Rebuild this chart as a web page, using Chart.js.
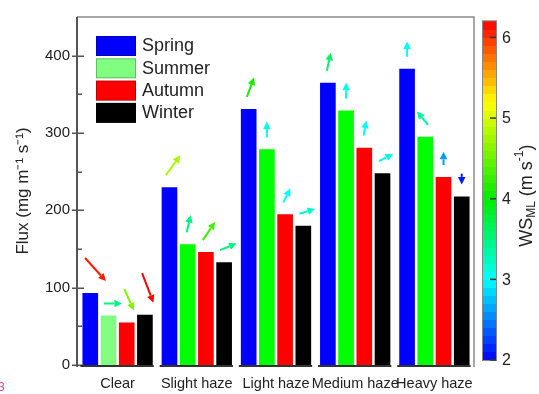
<!DOCTYPE html>
<html>
<head>
<meta charset="utf-8">
<script src="https://cdn.jsdelivr.net/npm/chart.js@4"></script>
<style>
  html, body { margin: 0; padding: 0; background: #fff; overflow: hidden; }
  canvas { display: block; }
</style>
</head>
<body>
<canvas id="c" width="539" height="394"></canvas>
<script>
// Pollution categories on the x axis
const categories = ['Clear', 'Slight haze', 'Light haze', 'Medium haze', 'Heavy haze'];

// Flux (mg m-1 s-1) per season
const fluxSpring = [93, 230, 331, 365, 383];
const fluxSummer = [64, 156, 279, 329, 295];
const fluxAutumn = [55, 146, 195, 281, 243];
const fluxWinter = [65, 133, 180, 248, 218];

// Mixed-layer wind speed WS_ML (m s-1) per season
const wsSpring = [6.1, 4.8, 4.1, 3.6, 3.0];
const wsSummer = [3.5, 3.5, 3.1, 3.1, 3.4];
const wsAutumn = [4.6, 4.3, 3.0, 3.0, 2.6];
const wsWinter = [6.2, 3.5, 3.2, 3.1, 2.1];

// Direction the wind vector points (degrees, counter-clockwise from east)
const dirSpring = [-48, 54, 70, 78, 90];
const dirSummer = [0, 77, 90, 90, 130];
const dirAutumn = [-66, 56, 63, 80, 90];
const dirWinter = [-69, 22, 17, 27, -90];

// Axis ticks
const fluxTicks = [0, 100, 200, 300, 400];
const fluxMinorTicks = [50, 150, 250, 350];
const wsTicks = [2, 3, 4, 5, 6];
const wsRange = [2.0, 6.2];

const FONT = "'Liberation Sans', Arial, Helvetica, sans-serif";
Chart.defaults.font.family = FONT;

// Rainbow colour map used for the wind-speed colour bar and vectors
const cmapStops = [
  [2.0, [0, 0, 255]],
  [3.0, [0, 255, 255]],
  [4.0, [0, 235, 0]],
  [5.2, [255, 255, 0]],
  [6.2, [255, 0, 0]]
];
function wsColor(v) {
  if (v <= cmapStops[0][0]) return 'rgb(' + cmapStops[0][1].join(',') + ')';
  for (let i = 1; i < cmapStops.length; i++) {
    const [v1, c1] = cmapStops[i];
    const [v0, c0] = cmapStops[i - 1];
    if (v <= v1) {
      const f = (v - v0) / (v1 - v0);
      const c = c0.map((a, k) => Math.round(a + (c1[k] - a) * f));
      return 'rgb(' + c.join(',') + ')';
    }
  }
  return 'rgb(' + cmapStops[cmapStops.length - 1][1].join(',') + ')';
}

function drawArrow(ctx, x0, y0, x1, y1, color) {
  const ang = Math.atan2(y1 - y0, x1 - x0);
  const hl = 7.5, hw = 3.8;
  const bx = x1 - hl * Math.cos(ang), by = y1 - hl * Math.sin(ang);
  ctx.strokeStyle = color;
  ctx.fillStyle = color;
  ctx.lineWidth = 2;
  ctx.lineCap = 'butt';
  ctx.beginPath();
  ctx.moveTo(x0, y0);
  ctx.lineTo(bx, by);
  ctx.stroke();
  ctx.beginPath();
  ctx.moveTo(x1, y1);
  ctx.lineTo(bx + hw * Math.sin(ang), by - hw * Math.cos(ang));
  ctx.lineTo(bx - hw * Math.sin(ang), by + hw * Math.cos(ang));
  ctx.closePath();
  ctx.fill();
}

// Frame, axis ticks, per-group baselines, legend, colour bar and wind vectors
const decorations = {
  id: 'decorations',
  afterDatasetsDraw(chart) {
    const ctx = chart.ctx;
    const area = chart.chartArea;
    const y = chart.scales.y;
    ctx.save();

    // frame
    ctx.strokeStyle = '#8a8a8a';
    ctx.lineWidth = 1.5;
    ctx.beginPath();
    ctx.moveTo(area.left - 1, area.top);
    ctx.lineTo(area.right, area.top);
    ctx.lineTo(area.right, area.bottom + 2);
    ctx.stroke();

    // left axis
    ctx.strokeStyle = '#555';
    ctx.lineWidth = 2;
    ctx.beginPath();
    ctx.moveTo(area.left - 1, area.top);
    ctx.lineTo(area.left - 1, area.bottom + 2);
    ctx.stroke();

    // y ticks
    ctx.lineWidth = 1.5;
    fluxTicks.forEach(v => {
      const py = Math.round(y.getPixelForValue(v)) + 0.25;
      ctx.beginPath();
      ctx.moveTo(area.left - 6, py);
      ctx.lineTo(area.left + 6, py);
      ctx.stroke();
    });
    fluxMinorTicks.forEach(v => {
      const py = Math.round(y.getPixelForValue(v)) + 0.25;
      ctx.beginPath();
      ctx.moveTo(area.left, py);
      ctx.lineTo(area.left + 4, py);
      ctx.stroke();
    });

    // baseline segment under each group of bars
    const first = chart.getDatasetMeta(0).data;
    const last = chart.getDatasetMeta(chart.data.datasets.length - 1).data;
    ctx.strokeStyle = '#333';
    ctx.lineWidth = 2;
    first.forEach((bar, i) => {
      const x0 = bar.x - bar.width / 2 - 2;
      const x1 = last[i].x + last[i].width / 2 + 1;
      const by = y.getPixelForValue(0) + 1;
      ctx.beginPath();
      ctx.moveTo(x0, by);
      ctx.lineTo(x1, by);
      ctx.stroke();
    });

    // wind vectors above each bar: length follows wind speed, colour from the colour map
    const pxPerWs = 5.1;
    chart.data.datasets.forEach((ds, d) => {
      const meta = chart.getDatasetMeta(d);
      meta.data.forEach((bar, i) => {
        const ws = ds.windSpeed[i];
        const a = ds.windDir[i] * Math.PI / 180;
        const len = ws * pxPerWs;
        const dx = len * Math.cos(a);
        const dy = -len * Math.sin(a);
        const tx = bar.x - 0.25 * dx;
        const low = bar.y - 12;
        const ty = dy > 0 ? low - dy : low;
        drawArrow(ctx, tx, ty, tx + dx, ty + dy, wsColor(ws));
      });
    });

    // legend inside the plot
    const lx = area.left + 18, ly = area.top + 19;
    ctx.font = '18px ' + FONT;
    ctx.textBaseline = 'middle';
    ctx.textAlign = 'left';
    chart.data.datasets.forEach((ds, d) => {
      const sy = ly + d * 22.3;
      ctx.fillStyle = ds.legendColor;
      ctx.fillRect(lx, sy, 40, 20);
      ctx.strokeStyle = 'rgba(0,0,0,0.25)';
      ctx.lineWidth = 1;
      ctx.strokeRect(lx + 0.5, sy + 0.5, 39, 19);
      ctx.fillStyle = '#222';
      ctx.fillText(ds.label, lx + 46, sy + 10.5);
    });

    // colour bar
    const cbx = area.right + 9, cbw = 13;
    const cbTop = area.top + 4.3, cbBot = area.bottom - 5;
    const pxPerUnit = (cbBot - cbTop) / (wsRange[1] - wsRange[0]);
    const wsY = v => cbBot - (v - wsRange[0]) * pxPerUnit;
    const steps = Math.round((wsRange[1] - wsRange[0]) / 0.1);
    for (let k = 0; k < steps; k++) {
      const v0 = wsRange[0] + k * 0.1;
      ctx.fillStyle = wsColor(v0 + 0.05);
      const yTop = wsY(v0 + 0.1), yBot = wsY(v0);
      ctx.fillRect(cbx, Math.floor(yTop), cbw, Math.ceil(yBot) - Math.floor(yTop));
    }
    ctx.strokeStyle = '#888';
    ctx.lineWidth = 1;
    ctx.strokeRect(cbx - 0.5, cbTop - 0.5, cbw + 1, cbBot - cbTop + 1);
    ctx.strokeStyle = '#333';
    ctx.lineWidth = 1.5;
    ctx.fillStyle = '#222';
    ctx.font = '16px ' + FONT;
    wsTicks.forEach(v => {
      const py = wsY(v);
      ctx.beginPath();
      ctx.moveTo(cbx + cbw - 6, py);
      ctx.lineTo(cbx + cbw, py);
      ctx.stroke();
      ctx.fillText(String(v), cbx + cbw + 6, py + 1);
    });

    // colour bar title: WS_ML (m s^-1)
    ctx.save();
    ctx.translate(area.right + 53, (cbTop + cbBot) / 2 + 5);
    ctx.rotate(-Math.PI / 2);
    const parts = [
      { t: 'WS', size: 18, dy: 0 },
      { t: 'ML', size: 12, dy: 5 },
      { t: ' (m s', size: 18, dy: 0 },
      { t: '-1', size: 12, dy: -7 },
      { t: ')', size: 18, dy: 0 }
    ];
    let total = 0;
    parts.forEach(p => { ctx.font = p.size + 'px ' + FONT; p.w = ctx.measureText(p.t).width; total += p.w; });
    let px = -total / 2;
    ctx.fillStyle = '#222';
    ctx.textBaseline = 'middle';
    parts.forEach(p => {
      ctx.font = p.size + 'px ' + FONT;
      ctx.fillText(p.t, px, p.dy);
      px += p.w;
    });
    ctx.restore();

    // panel mark at the lower left edge
    ctx.fillStyle = '#e0409a';
    ctx.font = '12px ' + FONT;
    ctx.textBaseline = 'alphabetic';
    ctx.fillText('3', -2, 391);

    ctx.restore();
  }
};

const summerColors = fluxSummer.map((_, i) => (i === 0 ? '#80ff80' : '#00ff00'));

new Chart(document.getElementById('c'), {
  type: 'bar',
  data: {
    labels: categories,
    datasets: [
      { label: 'Spring', data: fluxSpring, backgroundColor: '#0000ff', legendColor: '#0000ff', windSpeed: wsSpring, windDir: dirSpring },
      { label: 'Summer', data: fluxSummer, backgroundColor: summerColors, legendColor: '#80ff80', windSpeed: wsSummer, windDir: dirSummer },
      { label: 'Autumn', data: fluxAutumn, backgroundColor: '#ff0000', legendColor: '#ff0000', windSpeed: wsAutumn, windDir: dirAutumn },
      { label: 'Winter', data: fluxWinter, backgroundColor: '#000000', legendColor: '#000000', windSpeed: wsWinter, windDir: dirWinter }
    ]
  },
  options: {
    responsive: false,
    animation: false,
    devicePixelRatio: 1,
    categoryPercentage: 0.92,
    barPercentage: 0.86,
    layout: { padding: { left: 0, right: 65, top: 10, bottom: 0 } },
    plugins: {
      legend: { display: false },
      tooltip: { enabled: false }
    },
    scales: {
      x: {
        grid: { display: false, drawTicks: false },
        border: { display: false },
        ticks: {
          autoSkip: false, maxRotation: 0, minRotation: 0,
          padding: 10, color: '#222',
          font: { size: 14.5 }
        },
        afterFit: s => { s.height = 29; }
      },
      y: {
        min: 0, max: 450,
        grid: { display: false, drawTicks: false },
        border: { display: false },
        ticks: { stepSize: 100, padding: 8, color: '#222', font: { size: 15 } },
        afterBuildTicks: s => { s.ticks = s.ticks.filter(t => fluxTicks.includes(t.value)); },
        title: {
          display: true,
          text: 'Flux (mg m\u207B\u00B9 s\u207B\u00B9)',
          color: '#222',
          font: { size: 17 },
          padding: { top: 13, bottom: 0 }
        },
        afterFit: s => { s.width = 78; }
      }
    }
  },
  plugins: [decorations]
});
</script>
</body>
</html>
